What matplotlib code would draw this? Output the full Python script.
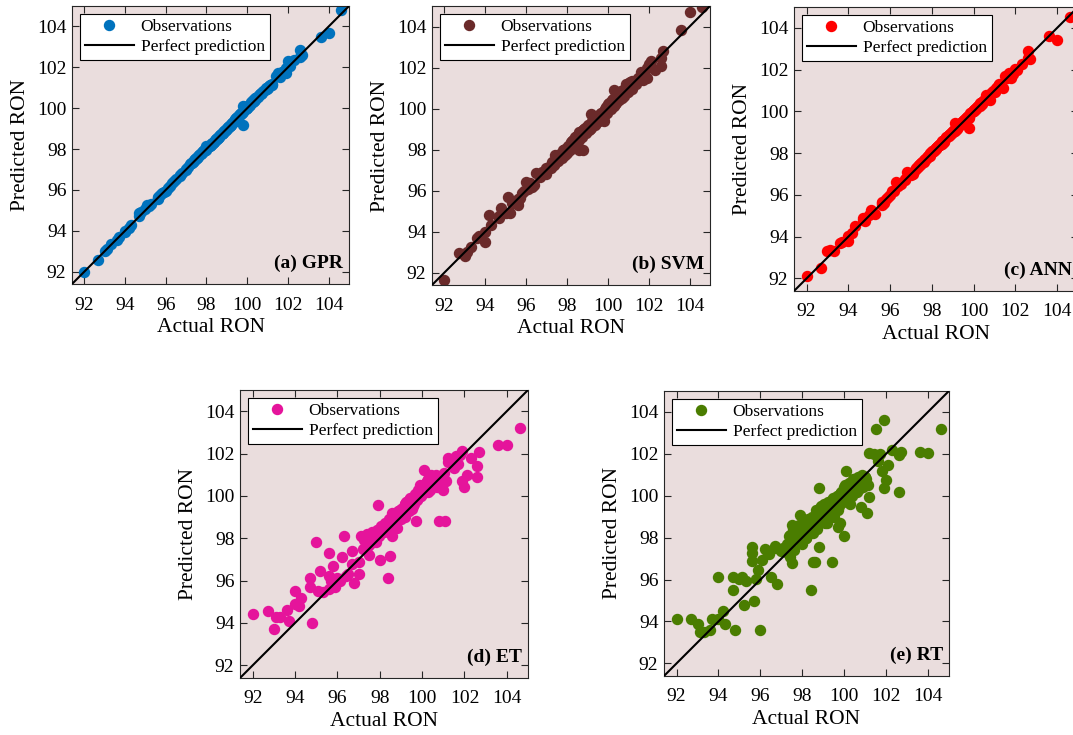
import matplotlib.pyplot as plt

plt.rcParams['font.family'] = ['Liberation Serif', 'DejaVu Serif']

# === Dados ===
actual = [92.0, 92.7, 93.0, 93.1, 93.3, 93.6, 93.7, 94.0, 94.0, 94.2,
          94.3, 94.7, 94.7, 94.8, 95.0, 95.1, 95.2, 95.3, 95.6, 95.6,
          95.6, 95.7, 95.8, 95.9, 96.0, 96.1, 96.2, 96.3, 96.4, 96.5,
          96.7, 96.7, 96.8, 97.0, 97.0, 97.1, 97.2, 97.3, 97.4, 97.4,
          97.5, 97.5, 97.6, 97.7, 97.8, 97.8, 97.9, 98.0, 98.0, 98.1,
          98.2, 98.2, 98.3, 98.4, 98.4, 98.5, 98.5, 98.6, 98.6, 98.7,
          98.8, 98.8, 98.9, 99.0, 99.0, 99.1, 99.2, 99.2, 99.3, 99.4,
          99.4, 99.5, 99.6, 99.6, 99.7, 99.8, 99.8, 99.9, 100.0, 100.0,
          100.1, 100.2, 100.3, 100.3, 100.4, 100.5, 100.6, 100.7, 100.8, 100.9,
          101.0, 101.1, 101.2, 101.2, 101.4, 101.5, 101.6, 101.7, 101.8, 101.9,
          101.9, 102.0, 102.1, 102.3, 102.6, 102.6, 102.7, 103.6, 104.0, 104.6,
          # regiao densa
          97.25, 97.35, 97.45, 97.55, 97.65, 97.75, 97.85, 97.95, 98.05, 98.15,
          98.25, 98.35, 98.45, 98.55, 98.65, 98.75, 98.85, 98.95, 99.05, 99.15,
          99.25, 99.35, 99.45, 99.55, 99.65, 99.75, 99.85, 99.95, 100.05, 100.15,
          100.25, 100.35, 100.45, 100.55, 100.65, 100.75, 100.85, 100.95, 101.05, 101.15,
          97.6, 97.9, 98.2, 98.5, 98.8, 99.1, 99.4, 99.7, 100.0, 100.3,
          98.3, 98.6, 98.9, 99.2, 99.5, 99.8, 100.1, 100.4, 100.7, 101.0]

pred_gpr = [92.0, 92.55, 93.0, 93.1, 93.35, 93.55, 93.7, 93.95, 94.0, 94.15,
            94.3, 94.85, 94.75, 94.9, 95.05, 95.25, 95.2, 95.3, 95.65, 95.55,
            95.6, 95.75, 95.85, 95.9, 95.95, 96.1, 96.2, 96.35, 96.45, 96.55,
            96.75, 96.7, 96.85, 97.0, 97.05, 97.1, 97.25, 97.3, 97.45, 97.4,
            97.55, 97.5, 97.65, 97.75, 97.8, 97.85, 97.95, 98.15, 97.95, 98.1,
            98.25, 98.2, 98.3, 98.45, 98.4, 98.55, 98.5, 98.65, 98.6, 98.75,
            98.8, 98.85, 98.95, 99.05, 99.0, 99.15, 99.2, 99.25, 99.35, 99.4,
            99.45, 99.55, 99.65, 99.6, 99.75, 100.1, 99.2, 99.95, 100.05, 100.0,
            100.15, 100.3, 100.4, 100.35, 100.5, 100.55, 100.65, 100.75, 100.85, 101.0,
            101.05, 101.15, 101.2, 101.15, 101.6, 101.7, 101.55, 101.75, 101.8, 101.95,
            101.7, 102.3, 102.05, 102.35, 102.85, 102.5, 102.6, 103.5, 103.7, 104.8,
            97.3, 97.35, 97.5, 97.55, 97.7, 97.75, 97.9, 97.95, 98.1, 98.15,
            98.3, 98.35, 98.5, 98.55, 98.7, 98.75, 98.9, 98.95, 99.1, 99.15,
            99.3, 99.35, 99.5, 99.55, 99.7, 99.75, 99.9, 99.95, 100.1, 100.15,
            100.3, 100.35, 100.5, 100.55, 100.7, 100.75, 100.9, 100.95, 101.1, 101.15,
            97.6, 97.9, 98.2, 98.5, 98.8, 99.1, 99.4, 99.7, 100.0, 100.3,
            98.3, 98.6, 98.9, 99.2, 99.5, 99.8, 100.1, 100.4, 100.7, 101.0]

pred_svm = [91.65, 92.95, 92.8, 93.0, 93.25, 93.7, 93.8, 93.5, 94.0, 94.8,
            94.35, 94.65, 94.75, 95.15, 94.9, 95.7, 94.9, 95.4, 95.3, 95.5,
            95.6, 95.65, 95.9, 96.0, 96.4, 96.1, 96.35, 96.2, 96.3, 96.85,
            96.8, 96.65, 96.9, 97.1, 96.8, 97.15, 97.1, 97.4, 97.75, 97.35,
            97.5, 97.6, 97.55, 97.8, 98.0, 97.7, 98.05, 97.85, 98.0, 98.15,
            98.3, 98.1, 98.4, 98.6, 98.35, 98.65, 98.5, 98.0, 98.85, 98.7,
            98.0, 98.95, 98.9, 99.1, 98.95, 99.2, 99.75, 99.1, 99.4, 99.3,
            99.5, 99.6, 99.45, 99.75, 99.7, 99.4, 99.9, 100.1, 100.0, 100.2,
            100.05, 100.4, 100.9, 100.25, 100.6, 100.45, 100.8, 100.5, 100.6, 101.2,
            100.8, 101.3, 101.35, 100.95, 101.2, 101.5, 101.8, 101.4, 101.6, 102.0,
            101.5, 102.15, 102.3, 101.9, 102.1, 102.45, 102.8, 103.85, 104.7, 104.95,
            97.4, 97.25, 97.6, 97.45, 97.8, 97.6, 98.0, 97.85, 98.2, 98.0,
            98.4, 98.2, 98.6, 98.4, 98.8, 98.6, 99.0, 98.8, 99.2, 99.0,
            99.4, 99.2, 99.6, 99.4, 99.8, 99.55, 100.0, 99.8, 100.25, 100.0,
            100.45, 100.2, 100.65, 100.4, 100.85, 100.6, 101.0, 100.8, 101.25, 101.0,
            97.75, 97.75, 98.35, 98.35, 98.95, 98.95, 99.55, 99.55, 100.15, 100.15,
            98.45, 98.45, 99.05, 99.05, 99.65, 99.65, 100.25, 100.25, 100.85, 100.85]

pred_ann = [92.1, 92.5, 93.3, 93.35, 93.3, 93.7, 93.75, 93.8, 94.05, 94.2,
            94.5, 94.8, 94.9, 94.75, 95.05, 95.3, 95.15, 95.1, 95.5, 95.6,
            95.65, 95.6, 95.8, 95.9, 96.0, 96.2, 96.2, 96.6, 96.45, 96.5,
            96.7, 96.75, 97.1, 96.95, 97.05, 97.0, 97.2, 97.3, 97.4, 97.45,
            97.5, 97.55, 97.6, 97.7, 97.85, 97.8, 98.0, 98.1, 98.05, 98.1,
            98.2, 98.25, 98.35, 98.4, 98.45, 98.5, 98.6, 98.6, 98.65, 98.75,
            98.8, 98.85, 98.9, 99.0, 99.05, 99.45, 99.2, 99.25, 99.3, 99.45,
            99.4, 99.55, 99.6, 99.65, 99.75, 99.2, 99.7, 99.95, 100.0, 100.05,
            100.1, 100.25, 100.3, 100.4, 100.45, 100.5, 100.8, 100.7, 100.55, 100.9,
            101.0, 101.1, 101.25, 101.3, 101.1, 101.7, 101.6, 101.85, 101.6, 101.9,
            101.8, 102.05, 102.0, 102.25, 102.9, 102.55, 102.5, 103.6, 103.4, 104.5,
            97.3, 97.4, 97.5, 97.6, 97.7, 97.8, 97.9, 98.0, 98.1, 98.2,
            98.3, 98.4, 98.5, 98.6, 98.7, 98.8, 98.9, 99.0, 99.1, 99.2,
            99.3, 99.4, 99.5, 99.6, 99.7, 99.8, 99.9, 100.0, 100.1, 100.2,
            100.3, 100.4, 100.5, 100.6, 100.7, 100.8, 100.9, 101.0, 101.1, 101.2,
            97.65, 97.85, 98.25, 98.45, 98.85, 99.05, 99.45, 99.65, 100.05, 100.25,
            98.35, 98.55, 98.95, 99.15, 99.55, 99.75, 100.15, 100.35, 100.75, 100.95]

pred_et = [94.4, 94.55, 93.7, 94.3, 94.3, 94.6, 94.1, 95.5, 94.9, 94.8,
           95.2, 96.1, 95.7, 94.0, 97.8, 95.5, 96.45, 95.45, 97.3, 96.2,
           95.6, 96.0, 96.7, 95.7, 96.1, 96.0, 97.1, 98.1, 96.2, 96.3,
           97.4, 96.8, 95.9, 96.9, 96.3, 98.1, 97.5, 97.9, 97.6, 98.2,
           97.2, 97.7, 98.0, 97.8, 98.2, 97.8, 99.55, 96.95, 98.3, 98.5,
           98.3, 98.6, 98.4, 96.1, 98.7, 97.15, 98.9, 98.1, 99.2, 98.8,
           99.0, 98.5, 99.1, 98.9, 99.4, 99.2, 99.6, 99.0, 99.5, 99.3,
           99.8, 99.4, 99.9, 99.6, 98.8, 100.3, 99.9, 100.5, 100.1, 100.4,
           101.2, 100.6, 100.8, 100.2, 101.0, 100.5, 100.7, 100.4, 98.8, 100.6,
           100.3, 98.8, 101.8, 101.6, 101.5, 101.3, 101.9, 101.5, 101.95, 102.1,
           100.7, 100.4, 101.0, 101.8, 101.4, 100.9, 102.05, 102.4, 102.4, 103.2,
           97.9, 97.6, 98.1, 97.9, 98.3, 98.0, 98.4, 98.1, 98.6, 98.3,
           98.7, 98.4, 98.9, 98.6, 99.1, 98.7, 99.3, 99.0, 99.4, 99.1,
           99.7, 99.4, 99.9, 99.5, 100.1, 99.8, 100.3, 100.0, 100.5, 100.2,
           100.7, 100.3, 100.9, 100.5, 101.0, 100.5, 100.9, 100.6, 101.1, 100.7,
           98.2, 98.4, 98.5, 98.7, 99.2, 99.4, 99.8, 100.0, 100.4, 100.7,
           98.6, 99.0, 99.3, 99.6, 99.9, 100.2, 100.5, 100.8, 100.5, 100.6]

pred_rt = [94.1, 94.1, 93.9, 93.5, 93.5, 93.6, 94.1, 96.1, 94.1, 94.5,
           93.9, 96.1, 95.5, 93.6, 96.05, 96.1, 94.8, 95.95, 97.55, 97.25,
           96.9, 95.0, 96.05, 96.45, 93.6, 96.95, 97.45, 97.35, 97.2, 96.1,
           97.6, 97.5, 95.8, 97.4, 97.35, 97.5, 97.3, 97.6, 98.15, 97.1,
           96.8, 98.6, 97.4, 98.3, 97.9, 98.5, 99.1, 98.2, 97.7, 98.6,
           98.0, 98.8, 98.3, 95.5, 98.9, 96.85, 98.2, 96.85, 99.0, 98.4,
           97.55, 100.35, 99.5, 98.8, 99.3, 98.9, 99.6, 98.7, 99.2, 96.85,
           99.8, 99.3, 99.9, 99.5, 98.5, 100.1, 98.7, 100.2, 98.1, 100.4,
           101.2, 100.1, 100.6, 99.6, 100.8, 100.5, 100.2, 100.6, 99.45, 100.4,
           100.9, 99.2, 102.05, 99.95, 102.0, 103.2, 101.65, 102.0, 101.2, 103.6,
           100.35, 100.75, 101.45, 102.2, 100.2, 101.95, 102.1, 102.1, 102.05, 103.2,
           97.7, 98.1, 97.9, 98.4, 98.0, 98.3, 98.6, 98.1, 98.7, 98.5,
           98.9, 98.2, 99.0, 98.6, 99.3, 98.8, 99.4, 99.0, 99.6, 99.1,
           99.7, 99.0, 99.9, 99.3, 100.0, 99.5, 100.2, 99.7, 100.5, 99.8,
           100.6, 100.0, 100.8, 100.3, 100.9, 100.4, 101.0, 100.6, 100.8, 100.5,
           98.2, 98.5, 98.0, 98.9, 99.2, 98.7, 99.7, 99.3, 100.3, 100.0,
           98.7, 98.4, 99.3, 99.6, 99.0, 100.1, 99.8, 100.6, 100.3, 100.9]

modelos = [
    ("(a) GPR", pred_gpr, "#0072BD", [0.0671, 0.6136, 0.2582, 0.3782]),
    ("(b) SVM", pred_svm, "#6A2A2A", [0.4026, 0.6122, 0.2591, 0.3796]),
    ("(c) ANN", pred_ann, "#FF0000", [0.7400, 0.6041, 0.2647, 0.3864]),
    ("(d) ET", pred_et, "#E5149B", [0.2237, 0.0776, 0.2684, 0.3918]),
    ("(e) RT", pred_rt, "#4A7D00", [0.6188, 0.0803, 0.2656, 0.3878]),
]

limites = [91.4, 105]
ticks = [92, 94, 96, 98, 100, 102, 104]

fig = plt.figure(figsize=(10.73, 7.35), dpi=100)

for rotulo, pred, cor, pos in modelos:
    ax = fig.add_axes(pos)
    ax.set_facecolor("#EADDDD")
    ax.plot(actual, pred, "o", color=cor, ms=7.2, linestyle="none",
            label="Observations", zorder=2)
    ax.plot(limites, limites, "-", color="black", lw=1.5,
            label="Perfect prediction", zorder=3)
    ax.set_xlim(limites)
    ax.set_ylim(limites)
    ax.set_xticks(ticks)
    ax.set_yticks(ticks)
    ax.tick_params(direction="in", top=True, right=True, length=5,
                   width=0.8, labelsize=14, colors="#262626",
                   labelcolor="black")
    ax.tick_params(axis="x", pad=9)
    ax.tick_params(axis="y", pad=4)
    for sp in ax.spines.values():
        sp.set_color("#262626")
        sp.set_linewidth(0.8)
    ax.set_xlabel("Actual RON", fontsize=15.5, labelpad=3)
    ax.set_ylabel("Predicted RON", fontsize=15.5, labelpad=5)
    ax.text(0.978, 0.043, rotulo, transform=ax.transAxes, ha="right",
            va="bottom", fontsize=14, fontweight="bold")
    leg = ax.legend(loc="upper left", fontsize=12.5, fancybox=False,
                    framealpha=1, edgecolor="black", handlelength=2.8,
                    handletextpad=0.4, borderaxespad=0.45, borderpad=0.3,
                    labelspacing=0.2)
    leg.get_frame().set_linewidth(0.8)

plt.savefig("out.png", dpi=100)
